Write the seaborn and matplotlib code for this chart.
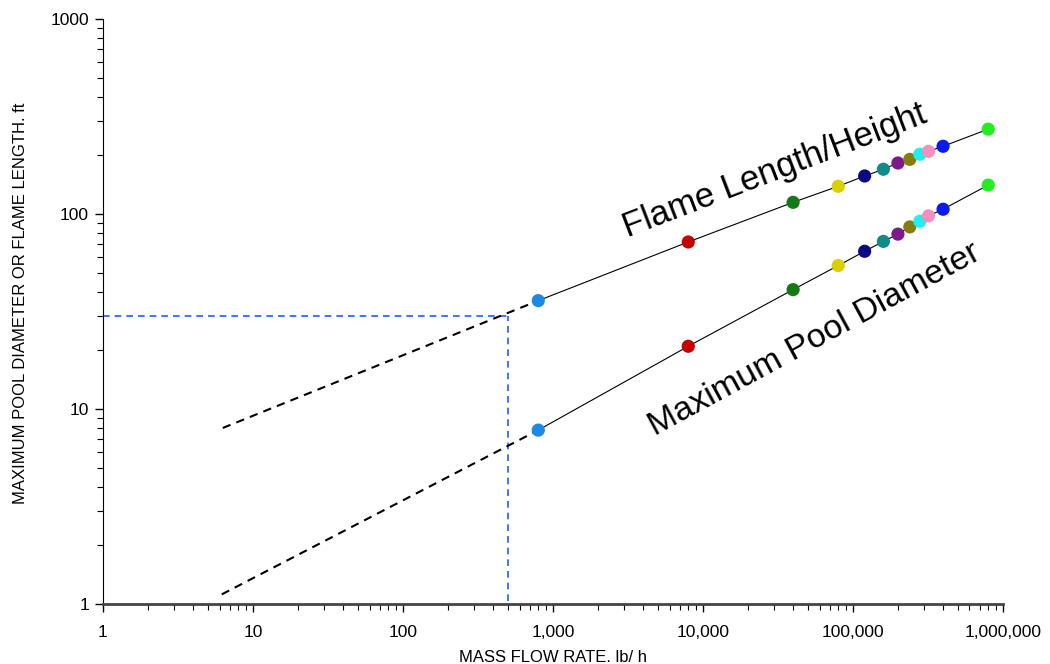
import matplotlib
matplotlib.use("Agg")
import matplotlib.pyplot as plt
import matplotlib.ticker as mticker
import seaborn as sns
import pandas as pd
import numpy as np

# data
mass_flow = [800, 8000, 40000, 80000, 120000, 160000, 200000, 240000, 280000, 320000, 400000, 800000]
flame_length = [36, 72, 115, 139, 157, 170, 183, 191, 203, 210, 223, 273]
pool_diameter = [7.8, 21, 41, 54.5, 64.5, 72.5, 79, 86, 92, 98, 106, 141]
point_colors = ["#1e88e5", "#c40000", "#157a15", "#d8d000", "#0a0a80", "#138a8a",
                "#7d1a8a", "#857d10", "#22eeee", "#f48fc0", "#0a1aee", "#22ee22"]
flame_ext_x = [6.3, 800]
flame_ext_y = [8.0, 36]
pool_ext_x = [6.2, 800]
pool_ext_y = [1.12, 7.8]
ref_x = 500
ref_y = 30
x_ticks = [1, 10, 100, 1000, 10000, 100000, 1000000]
x_tick_labels = ["1", "10", "100", "1,000", "10,000", "100,000", "1,000,000"]
y_ticks = [1, 10, 100, 1000]
y_tick_labels = ["1", "10", "100", "1000"]

sns.set_style("ticks")
plt.rcParams['font.family'] = ['Liberation Sans', 'DejaVu Sans']
plt.rcParams['text.color'] = 'black'
plt.rcParams['axes.labelcolor'] = 'black'
plt.rcParams['xtick.color'] = 'black'
plt.rcParams['ytick.color'] = 'black'

fig = plt.figure(figsize=(10.5, 6.64), dpi=100)
ax = fig.add_axes([0.098, 0.0904, 0.857, 0.8806])

df = pd.DataFrame({"x": mass_flow, "flame": flame_length, "pool": pool_diameter,
                   "c": [str(i) for i in range(len(mass_flow))]})

sns.lineplot(data=df, x="x", y="flame", ax=ax, color="black", linewidth=0.8, zorder=2)
sns.lineplot(data=df, x="x", y="pool", ax=ax, color="black", linewidth=0.8, zorder=2)
sns.lineplot(x=flame_ext_x, y=flame_ext_y, ax=ax, color="black", linewidth=1.5,
             linestyle=(0, (4, 3)), zorder=2)
sns.lineplot(x=pool_ext_x, y=pool_ext_y, ax=ax, color="black", linewidth=1.5,
             linestyle=(0, (4, 3)), zorder=2)
pal = dict(zip(df["c"], point_colors))
sns.scatterplot(data=df, x="x", y="flame", hue="c", palette=pal, ax=ax, s=90,
                edgecolor="none", legend=False, zorder=3)
sns.scatterplot(data=df, x="x", y="pool", hue="c", palette=pal, ax=ax, s=90,
                edgecolor="none", legend=False, zorder=3)

ax.set_xscale("log")
ax.set_yscale("log")
ax.set_xlim(1, 1e6)
ax.set_ylim(1, 1000)

# reference dashed lines
ax.plot([1, ref_x], [ref_y, ref_y], color="#1f5cff", linestyle=(0, (4, 3)), linewidth=1.2, zorder=1)
ax.plot([ref_x, ref_x], [1.04, ref_y], color="#1f5cff", linestyle=(0, (4, 3)), linewidth=1.2, zorder=1)

ax.set_xticks(x_ticks)
ax.set_xticklabels(x_tick_labels)
ax.set_yticks(y_ticks)
ax.set_yticklabels(y_tick_labels)
ax.xaxis.set_minor_locator(mticker.LogLocator(base=10, subs=np.arange(2, 10)))
ax.yaxis.set_minor_locator(mticker.LogLocator(base=10, subs=np.arange(2, 10)))
ax.xaxis.set_minor_formatter(mticker.NullFormatter())
ax.yaxis.set_minor_formatter(mticker.NullFormatter())
ax.tick_params(axis="both", which="major", length=6, width=1, labelsize=12.5, pad=9)
ax.tick_params(axis="y", which="major", pad=4)
ax.tick_params(axis="both", which="minor", length=4, width=0.8)

for s in ["top", "right"]:
    ax.spines[s].set_visible(False)
ax.spines["left"].set_linewidth(0.8)
ax.spines["left"].set_color("black")
ax.spines["bottom"].set_linewidth(2.0)
ax.spines["bottom"].set_color("#444444")

ax.set_xlabel("MASS FLOW RATE. lb/ h", fontsize=12)
ax.set_ylabel("MAXIMUM POOL DIAMETER OR FLAME LENGTH. ft", fontsize=12)
ax.xaxis.set_label_coords(0.5, -0.079)
ax.yaxis.set_label_coords(-0.083, 0.515)

fig.text(775/1050, 1 - 171/664, "Flame Length/Height", fontsize=25, rotation=21,
         ha="center", va="center", rotation_mode="anchor")
fig.text(815/1050, 1 - 340/664, "Maximum Pool Diameter", fontsize=24.5, rotation=28.5,
         ha="center", va="center", rotation_mode="anchor")

fig.savefig("out.png", dpi=100)
